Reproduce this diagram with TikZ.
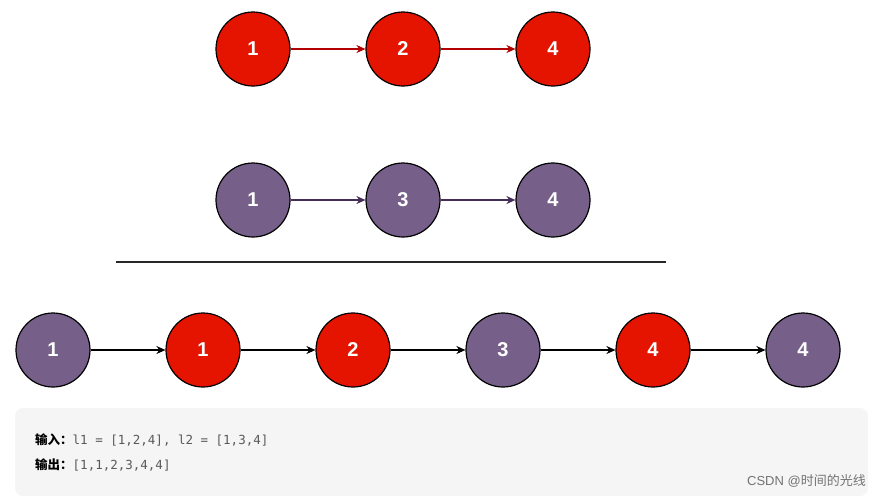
\documentclass[tikz,border=0pt]{standalone}
\usepackage{fontspec}
\setmainfont{Liberation Sans}
\newfontfamily\cjk{Noto Sans CJK SC}
\newfontfamily\monof{DejaVu Sans Mono}
\usetikzlibrary{arrows.meta}
\definecolor{rd}{HTML}{E51400}
\definecolor{pu}{HTML}{76608A}
\definecolor{ar}{HTML}{B20000}
\definecolor{ap}{HTML}{432D57}
\begin{document}
\begin{tikzpicture}[x=1pt,y=-1pt,
 nd/.style={circle,draw=black,line width=1.2pt,minimum size=74pt,inner sep=0pt,text=white,font=\bfseries\fontsize{20}{24}\selectfont},
 r/.style={nd,fill=rd}, p/.style={nd,fill=pu},
 ed/.style={-{Stealth[length=9pt,width=8pt]},line width=1.2pt}]
\useasboundingbox (0,0) rectangle (882,499);
\node[r] (a1) at (253,49) {1};
\node[r] (a2) at (403,49) {2};
\node[r] (a3) at (553,49) {4};
\node[p] (b1) at (253,200) {1};
\node[p] (b2) at (403,200) {3};
\node[p] (b3) at (553,200) {4};
\draw[ed,ar] (a1) -- (a2); \draw[ed,ar] (a2) -- (a3);
\draw[ed,ap] (b1) -- (b2); \draw[ed,ap] (b2) -- (b3);
\coordinate (l1) at (116,262); \coordinate (l2) at (666,262);
\draw[line width=1.5pt,black!85] (l1) -- (l2);
\node[p] (c1) at (53,350) {1};
\node[r] (c2) at (203,350) {1};
\node[r] (c3) at (353,350) {2};
\node[p] (c4) at (503,350) {3};
\node[r] (c5) at (653,350) {4};
\node[p] (c6) at (803,350) {4};
\foreach \u/\v in {c1/c2,c2/c3,c3/c4,c4/c5,c5/c6} \draw[ed,black] (\u) -- (\v);
\node[fill=black!4,rounded corners=8pt,minimum width=853pt,minimum height=88pt,inner sep=0pt] (box) at (441.5,452) {};
\node[anchor=west,inner sep=0pt,font=\fontsize{12.5}{15}\selectfont] (t1) at (35,440) {{\cjk\bfseries 输入：}{\monof\color{black!65}l1 = [1,2,4], l2 = [1,3,4]}};
\node[anchor=west,inner sep=0pt,font=\fontsize{12.5}{15}\selectfont] (t2) at (35,465) {{\cjk\bfseries 输出：}{\monof\color{black!65}[1,1,2,3,4,4]}};
\node[anchor=east,inner sep=0pt,text=black!55,font=\fontsize{13}{15}\selectfont] (wm) at (866,481) {CSDN @{\cjk 时间的光线}};
\end{tikzpicture}
\end{document}
